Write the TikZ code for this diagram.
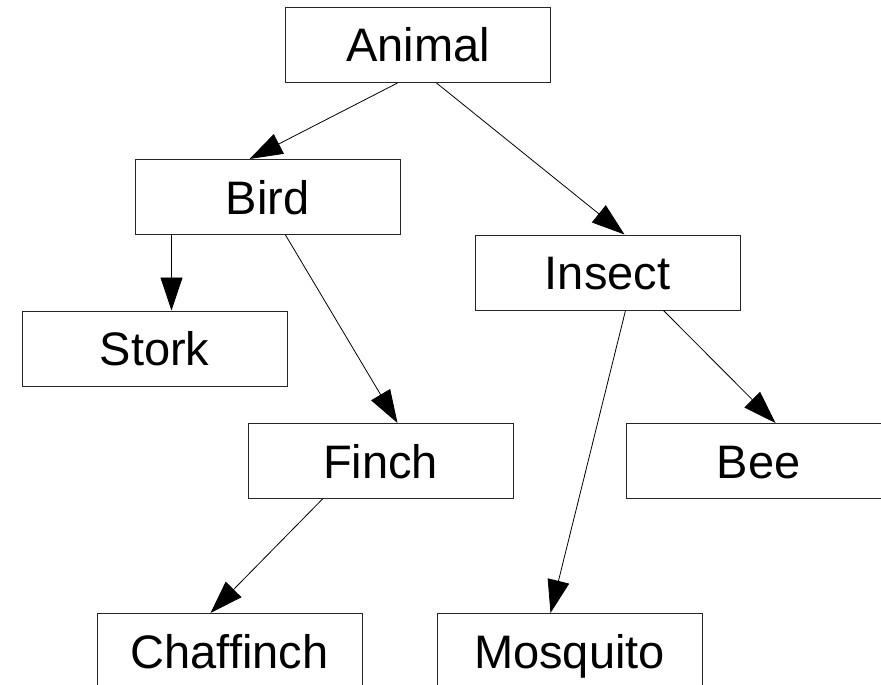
\documentclass[tikz,border=0pt]{standalone}
\usepackage{fontspec}
\setmainfont{Liberation Sans}
\usetikzlibrary{arrows.meta,calc}
\begin{document}
\begin{tikzpicture}[x=1pt,y=-1pt,
  box/.style={draw=black!85,line width=1pt,minimum width=265pt,minimum height=75pt,inner sep=0pt,text height=34pt,text depth=0pt,font=\fontsize{47}{56}\selectfont},
  conn/.style={draw=black,line width=0.8pt,-{Triangle[length=33pt,width=22pt]}}]
\useasboundingbox (0,0) rectangle (881,685);
\clip (0,0) rectangle (881,685);
\node[box] (animal) at (418,45) {Animal};
\node[box] (bird) at (267.5,197) {Bird};
\node[box] (insect) at (607.5,272.5) {Insect};
\node[box] (stork) at (154.5,348.5) {Stork};
\node[box] (finch) at (380.5,461) {Finch};
\node[box] (bee) at (758.5,461) {Bee};
\node[box] (chaffinch) at (229.5,651) {Chaffinch};
\node[box] (mosquito) at (569.5,651) {Mosquito};
\draw[conn] ($(animal.south west)+(112.5,0)$) -- ($(bird.north west)+(115,0)$);
\draw[conn] ($(animal.south west)+(151.5,0)$) -- ($(insect.north west)+(150,0)$);
\draw[conn] ($(bird.south west)+(37,0)$) -- ($(stork.north west)+(150,0)$);
\draw[conn] ($(bird.south west)+(151,0)$) -- ($(finch.north west)+(150,0)$);
\draw[conn] ($(insect.south west)+(151,0)$) -- ($(mosquito.north west)+(114,0)$);
\draw[conn] ($(insect.south west)+(189,0)$) -- ($(bee.north west)+(150,0)$);
\draw[conn] ($(finch.south west)+(75,0)$) -- ($(chaffinch.north west)+(114,0)$);
\end{tikzpicture}
\end{document}
